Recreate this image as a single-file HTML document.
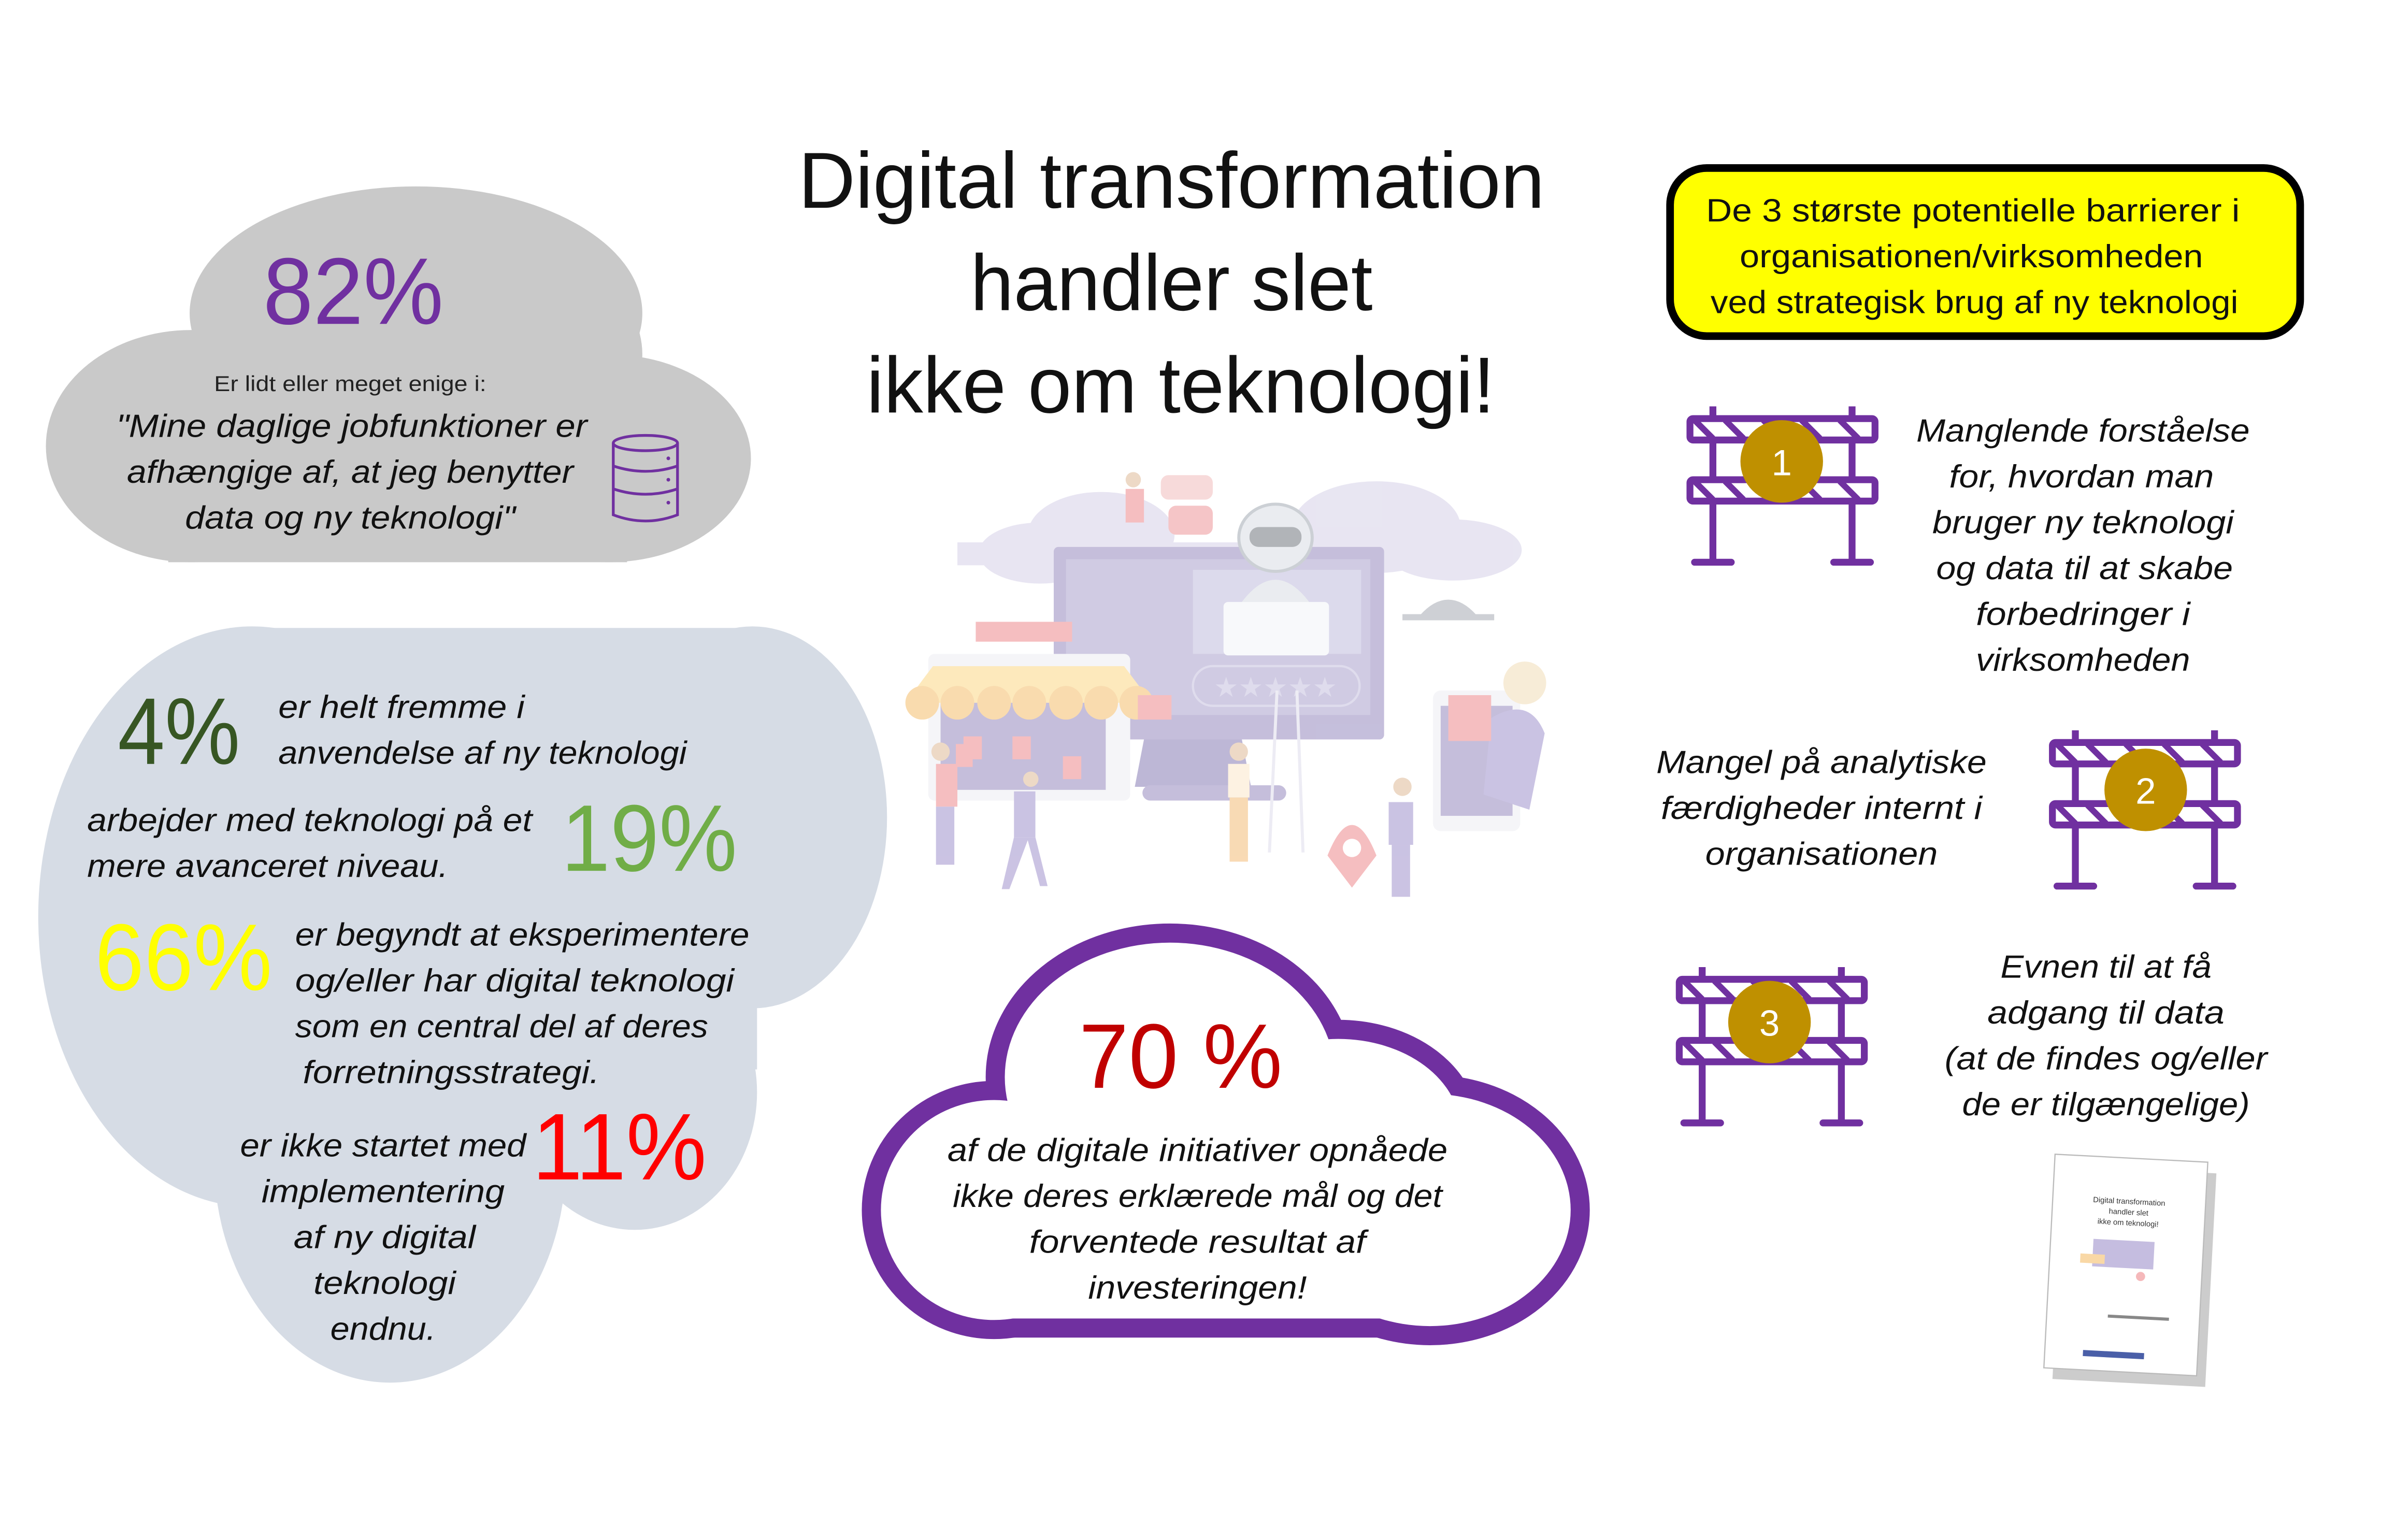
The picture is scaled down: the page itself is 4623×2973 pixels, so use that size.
<!DOCTYPE html>
<html><head><meta charset="utf-8"><style>
html,body{margin:0;padding:0;background:#fff;}
svg{display:block;}
text{font-family:"Liberation Sans",sans-serif;}
.it{font-style:italic;}
</style></head><body>
<svg width="4623" height="2973" viewBox="0 0 1566 1008" preserveAspectRatio="none" xmlns="http://www.w3.org/2000/svg">
<defs>
<g id="bar">
  <line x1="17" y1="1" x2="17" y2="103" stroke="#7030a0" stroke-width="4.5"/>
  <line x1="108" y1="1" x2="108" y2="103" stroke="#7030a0" stroke-width="4.5"/>
  <line x1="5" y1="103" x2="29" y2="103" stroke="#7030a0" stroke-width="4.5" stroke-linecap="round"/>
  <line x1="96" y1="103" x2="120" y2="103" stroke="#7030a0" stroke-width="4.5" stroke-linecap="round"/>
  <g stroke="#7030a0" stroke-width="4">
    <rect x="2" y="9" width="121" height="14" rx="2" fill="#fff" stroke-width="4.5"/>
    <rect x="2" y="49" width="121" height="14" rx="2" fill="#fff" stroke-width="4.5"/>
    <path d="M5 10 L17 22 M25 10 L37 22 M50 10 L62 22 M75 10 L87 22 M100 10 L112 22
             M5 50 L17 62 M25 50 L37 62 M50 50 L62 62 M75 50 L87 62 M100 50 L112 62"/>
  </g>
</g>
</defs>

<!-- gray cloud -->
<g fill="#c9c9c9">
  <ellipse cx="272" cy="205" rx="148" ry="83"/>
  <ellipse cx="125" cy="292" rx="95" ry="76"/>
  <ellipse cx="398" cy="300" rx="93" ry="68"/>
  <ellipse cx="330" cy="232" rx="90" ry="70"/>
  <rect x="110" y="250" width="300" height="118"/>
</g>
<g fill="none" stroke="#7030a0" stroke-width="1.8">
  <ellipse cx="422" cy="290" rx="21" ry="5"/>
  <path d="M401 290 V337 Q422 345 443 337 V290"/>
  <path d="M401 305 Q422 312 443 305 M401 320 Q422 327 443 320"/>
</g>
<g fill="#7030a0"><circle cx="437" cy="300" r="1.2"/><circle cx="437" cy="314" r="1.2"/><circle cx="437" cy="329" r="1.2"/></g>

<text x="231" y="212" font-size="62" fill="#7030a0" text-anchor="middle" textLength="118" lengthAdjust="spacingAndGlyphs">82%</text>
<text x="229" y="256" font-size="14" fill="#222" text-anchor="middle" textLength="178" lengthAdjust="spacingAndGlyphs">Er lidt eller meget enige i:</text>
<g class="it" font-size="21" fill="#111" text-anchor="middle">
<text x="230" y="286" textLength="308" lengthAdjust="spacingAndGlyphs">"Mine daglige jobfunktioner er</text>
<text x="229" y="316" textLength="292" lengthAdjust="spacingAndGlyphs">afhængige af, at jeg benytter</text>
<text x="229" y="346" textLength="216" lengthAdjust="spacingAndGlyphs">data og ny teknologi"</text>
</g>

<!-- blue cloud -->
<g fill="#d6dce5">
  <ellipse cx="165" cy="600" rx="140" ry="190"/>
  <path d="M150 411 H500 V560 H150 Z"/>
  <ellipse cx="492" cy="535" rx="88" ry="125"/>
  <ellipse cx="255" cy="760" rx="115" ry="145"/>
  <ellipse cx="415" cy="715" rx="80" ry="90"/>
  <rect x="200" y="540" width="295" height="160"/>
</g>
<g font-size="62">
<text x="77" y="500" fill="#375623" textLength="80" lengthAdjust="spacingAndGlyphs">4%</text>
<text x="367" y="570" fill="#70ad47" textLength="115" lengthAdjust="spacingAndGlyphs">19%</text>
<text x="62" y="648" fill="#ffff00" textLength="116" lengthAdjust="spacingAndGlyphs">66%</text>
<text x="348" y="772" fill="#ff0000" textLength="114" lengthAdjust="spacingAndGlyphs">11%</text>
</g>
<g class="it" font-size="21" fill="#111">
<text x="182" y="470" textLength="161" lengthAdjust="spacingAndGlyphs">er helt fremme i</text>
<text x="182" y="500" textLength="267" lengthAdjust="spacingAndGlyphs">anvendelse af ny teknologi</text>
<text x="57" y="544" textLength="291" lengthAdjust="spacingAndGlyphs">arbejder med teknologi på et</text>
<text x="57" y="574" textLength="236" lengthAdjust="spacingAndGlyphs">mere avanceret niveau.</text>
<text x="193" y="619" textLength="297" lengthAdjust="spacingAndGlyphs">er begyndt at eksperimentere</text>
<text x="193" y="649" textLength="287" lengthAdjust="spacingAndGlyphs">og/eller har digital teknologi</text>
<text x="193" y="679" textLength="270" lengthAdjust="spacingAndGlyphs">som en central del af deres</text>
<text x="198" y="709" textLength="194" lengthAdjust="spacingAndGlyphs">forretningsstrategi.</text>
<text x="157" y="757" textLength="187" lengthAdjust="spacingAndGlyphs">er ikke startet med</text>
<text x="171" y="787" textLength="159" lengthAdjust="spacingAndGlyphs">implementering</text>
<text x="192" y="817" textLength="119" lengthAdjust="spacingAndGlyphs">af ny digital</text>
<text x="205" y="847" textLength="93" lengthAdjust="spacingAndGlyphs">teknologi</text>
<text x="216" y="877" textLength="69" lengthAdjust="spacingAndGlyphs">endnu.</text>
</g>

<!-- title -->
<g font-size="52" fill="#111" text-anchor="middle">
<text x="766" y="136" textLength="488" lengthAdjust="spacingAndGlyphs">Digital transformation</text>
<text x="766" y="203" textLength="263" lengthAdjust="spacingAndGlyphs">handler slet</text>
<text x="772" y="270" textLength="411" lengthAdjust="spacingAndGlyphs">ikke om teknologi!</text>
</g>

<!-- illustration -->
<g opacity="0.9">
  <g fill="#e6e3f1">
    <ellipse cx="720" cy="350" rx="48" ry="28"/>
    <ellipse cx="680" cy="362" rx="40" ry="20"/>
    <ellipse cx="900" cy="345" rx="55" ry="30"/>
    <ellipse cx="950" cy="360" rx="45" ry="20"/>
    <rect x="626" y="355" width="362" height="15"/>
  </g>
  <rect x="689" y="358" width="216" height="126" rx="3" fill="#bfb8d8"/>
  <rect x="697" y="366" width="199" height="102" fill="#cbc6e0"/>
  <rect x="780" y="373" width="110" height="55" fill="#d9d6ea"/>
  <path d="M748 484 H812 L818 515 H742 Z" fill="#b6b0d2"/>
  <rect x="747" y="514" width="94" height="10" rx="5" fill="#bfb8d8"/>
  <rect x="780" y="436" width="109" height="26" rx="13" fill="none" stroke="#dcd9ec" stroke-width="1.5"/>
  <text x="834" y="456" font-size="18" fill="#dcd9ec" text-anchor="middle">★★★★★</text>
  <ellipse cx="834" cy="352" rx="24" ry="22" fill="#e8ebef" stroke="#c7cbd1" stroke-width="2"/>
  <rect x="817" y="345" width="34" height="13" rx="6" fill="#a9acb1"/>
  <path d="M812 394 Q834 365 856 394 Z" fill="#e8ebef"/>
  <rect x="800" y="394" width="69" height="35" rx="3" fill="#f8f9fb"/>
  <rect x="759" y="311" width="34" height="16" rx="5" fill="#f7d6d6"/>
  <rect x="764" y="331" width="29" height="19" rx="5" fill="#f5bfc1"/>
  <rect x="638" y="407" width="63" height="13" fill="#f5b8ba"/>
  <rect x="607" y="428" width="132" height="96" rx="4" fill="#f4f5f8"/>
  <rect x="615" y="455" width="108" height="62" fill="#bfb8d8"/>
  <path d="M592 460 L610 436 H735 L753 460 Z" fill="#fde7b5"/>
  <g fill="#f9d8a6"><circle cx="603" cy="460" r="11"/><circle cx="626" cy="460" r="11"/><circle cx="650" cy="460" r="11"/><circle cx="673" cy="460" r="11"/><circle cx="697" cy="460" r="11"/><circle cx="720" cy="460" r="11"/><circle cx="743" cy="460" r="11"/></g>
  <g fill="#f5b8ba"><rect x="630" y="482" width="12" height="15"/><rect x="662" y="482" width="12" height="15"/><rect x="695" y="495" width="12" height="15"/><rect x="625" y="487" width="11" height="15"/></g>
  <rect x="744" y="455" width="22" height="16" fill="#f5b8ba"/>
  <path d="M917 404 H977 M930 404 Q947 385 964 404" stroke="#c9ccd1" stroke-width="4" fill="#c9ccd1"/>
  <rect x="937" y="452" width="57" height="92" rx="5" fill="#f4f5f8"/>
  <rect x="942" y="462" width="47" height="72" fill="#bfb8d8"/>
  <circle cx="997" cy="447" r="14" fill="#f7ead3"/>
  <path d="M975 470 Q1000 455 1010 480 L1000 530 L970 520 Z" fill="#c5bde0"/>
  <rect x="947" y="455" width="28" height="30" fill="#f5b8ba"/>
  <path d="M868 560 Q884 520 900 560 L884 581 Z" fill="#f5b8ba"/>
  <circle cx="884" cy="555" r="6" fill="#fff"/>
  <path d="M835 452 L830 558 M848 452 L852 558" stroke="#eceaf3" stroke-width="2"/>
  <g fill="#c5bde0">
    <rect x="612" y="500" width="14" height="28" fill="#f5b8ba"/><rect x="612" y="528" width="12" height="38"/>
    <rect x="663" y="518" width="14" height="30"/><path d="M663 548 L655 582 H660 L672 550 L680 580 H685 L677 548 Z"/>
    <rect x="803" y="500" width="14" height="22" fill="#fdf1df"/><rect x="804" y="522" width="12" height="42" fill="#f8d6ac"/>
    <rect x="908" y="525" width="16" height="28"/><rect x="910" y="553" width="12" height="34"/>
    <rect x="736" y="320" width="12" height="22" fill="#f5b8ba"/>
  </g>
  <g fill="#ecd5c0"><circle cx="615" cy="492" r="6"/><circle cx="674" cy="510" r="5"/><circle cx="810" cy="492" r="6"/><circle cx="917" cy="515" r="6"/><circle cx="741" cy="314" r="5"/></g>
</g>

<!-- purple outlined cloud -->
<g fill="none" stroke="#7030a0" stroke-width="25">
  <ellipse cx="765" cy="705" rx="108" ry="88"/>
  <ellipse cx="935" cy="792" rx="92" ry="76"/>
  <ellipse cx="875" cy="740" rx="80" ry="60"/>
  <ellipse cx="650" cy="792" rx="74" ry="72"/>
  <rect x="640" y="730" width="320" height="133" rx="10"/>
</g>
<g fill="#fff">
  <ellipse cx="765" cy="705" rx="108" ry="88"/>
  <ellipse cx="935" cy="792" rx="92" ry="76"/>
  <ellipse cx="875" cy="740" rx="80" ry="60"/>
  <ellipse cx="650" cy="792" rx="74" ry="72"/>
  <rect x="640" y="730" width="320" height="133" rx="10"/>
</g>
<text x="772" y="712" font-size="60" fill="#c00000" text-anchor="middle" textLength="133" lengthAdjust="spacingAndGlyphs">70 %</text>
<g class="it" font-size="21" fill="#111" text-anchor="middle">
<text x="783" y="760" textLength="327" lengthAdjust="spacingAndGlyphs">af de digitale initiativer opnåede</text>
<text x="783" y="790" textLength="320" lengthAdjust="spacingAndGlyphs">ikke deres erklærede mål og det</text>
<text x="783" y="820" textLength="220" lengthAdjust="spacingAndGlyphs">forventede resultat af</text>
<text x="783" y="850" textLength="143" lengthAdjust="spacingAndGlyphs">investeringen!</text>
</g>

<!-- yellow box -->
<rect x="1092" y="110" width="412" height="110" rx="24" fill="#ffff00" stroke="#000" stroke-width="5"/>
<g font-size="21" fill="#111" text-anchor="middle">
<text x="1290" y="145" textLength="349" lengthAdjust="spacingAndGlyphs">De 3 største  potentielle barrierer i</text>
<text x="1289" y="175" textLength="303" lengthAdjust="spacingAndGlyphs">organisationen/virksomheden</text>
<text x="1291" y="205" textLength="345" lengthAdjust="spacingAndGlyphs">ved strategisk brug af ny teknologi</text>
</g>

<!-- barriers -->
<g transform="translate(1103,265)"><use href="#bar"/><circle cx="62" cy="37" r="27" fill="#bf9000"/><text x="62" y="46" font-size="24" fill="#fff" text-anchor="middle">1</text></g>
<g transform="translate(1340,477)"><use href="#bar"/><circle cx="63" cy="40" r="27" fill="#bf9000"/><text x="63" y="49" font-size="24" fill="#fff" text-anchor="middle">2</text></g>
<g transform="translate(1096,632)"><use href="#bar"/><circle cx="61" cy="37" r="27" fill="#bf9000"/><text x="61" y="46" font-size="24" fill="#fff" text-anchor="middle">3</text></g>

<g class="it" font-size="21" fill="#111" text-anchor="middle">
<text x="1362" y="289" textLength="218" lengthAdjust="spacingAndGlyphs">Manglende forståelse</text>
<text x="1361" y="319" textLength="173" lengthAdjust="spacingAndGlyphs">for, hvordan man</text>
<text x="1362" y="349" textLength="197" lengthAdjust="spacingAndGlyphs">bruger ny teknologi</text>
<text x="1363" y="379" textLength="194" lengthAdjust="spacingAndGlyphs">og data til at skabe</text>
<text x="1362" y="409" textLength="140" lengthAdjust="spacingAndGlyphs">forbedringer i</text>
<text x="1362" y="439" textLength="140" lengthAdjust="spacingAndGlyphs">virksomheden</text>
<text x="1191" y="506" textLength="216" lengthAdjust="spacingAndGlyphs">Mangel på analytiske</text>
<text x="1191" y="536" textLength="210" lengthAdjust="spacingAndGlyphs">færdigheder internt i</text>
<text x="1191" y="566" textLength="152" lengthAdjust="spacingAndGlyphs">organisationen</text>
<text x="1377" y="640" textLength="138" lengthAdjust="spacingAndGlyphs">Evnen til at få</text>
<text x="1377" y="670" textLength="155" lengthAdjust="spacingAndGlyphs">adgang til data</text>
<text x="1377" y="700" textLength="211" lengthAdjust="spacingAndGlyphs">(at de findes og/eller</text>
<text x="1377" y="730" textLength="188" lengthAdjust="spacingAndGlyphs">de er tilgængelige)</text>
</g>

<!-- booklet -->
<g transform="rotate(3 1390 828)">
  <rect x="1343" y="762" width="100" height="140" fill="#999" opacity="0.5" transform="translate(3,3)"/>
  <rect x="1340" y="758" width="100" height="140" fill="#fff" stroke="#bbb" stroke-width="0.8"/>
  <g font-size="5" fill="#333" text-anchor="middle">
    <text x="1390" y="788">Digital transformation</text>
    <text x="1390" y="795">handler slet</text>
    <text x="1390" y="802">ikke om teknologi!</text>
  </g>
  <rect x="1368" y="812" width="40" height="18" fill="#c5bde0"/>
  <rect x="1360" y="822" width="16" height="6" fill="#f9d8a6"/>
  <circle cx="1400" cy="835" r="3" fill="#f5b8ba"/>
  <rect x="1380" y="861" width="40" height="2" fill="#888"/>
  <rect x="1365" y="885" width="40" height="4" fill="#4a5fa8"/>
</g>
</svg>
</body></html>
